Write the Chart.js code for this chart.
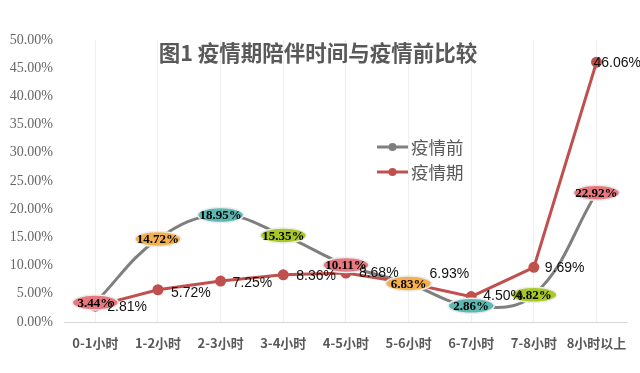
<!DOCTYPE html>
<html>
<head>
<meta charset="utf-8">
<script src="https://cdn.jsdelivr.net/npm/chart.js@4.4.1/dist/chart.umd.min.js"></script>
<style>
  html, body { margin: 0; padding: 0; background: #ffffff; }
  #wrap { width: 640px; height: 373px; }
</style>
</head>
<body>
<div id="wrap"><canvas id="c" width="640" height="373"></canvas></div>
<script>
const categories = ['0-1小时', '1-2小时', '2-3小时', '3-4小时', '4-5小时', '5-6小时', '6-7小时', '7-8小时', '8小时以上'];
const beforeValues = [3.44, 14.72, 18.95, 15.35, 10.11, 6.83, 2.86, 4.82, 22.92];
const duringValues = [2.81, 5.72, 7.25, 8.36, 8.68, 6.93, 4.50, 9.69, 46.06];
const seriesNames = ['疫情前', '疫情期'];
const titleText = '图1 疫情期陪伴时间与疫情前比较';
const yMin = 0, yMax = 50, yStep = 5;

const GRAY = '#7f7f7f';
const RED = '#c0504d';
const bubbleColors = ['#e77880', '#f4b04e', '#5db8b2', '#a8c826'];
const redLabelOffsets = [[12,1],[13,3],[12,2],[13,1],[13,0],[21,-9],[12,0],[11,1],[-3,1]];

const decorPlugin = {
  id: 'decor',
  afterDatasetsDraw(chart) {
    const ctx = chart.ctx;
    const m0 = chart.getDatasetMeta(0);
    ctx.save();
    m0.data.forEach((pt, i) => {
      const x = pt.x, y = pt.y;
      ctx.beginPath();
      ctx.ellipse(x, y, 23, 7.5, 0, 0, Math.PI * 2);
      ctx.fillStyle = bubbleColors[i % bubbleColors.length];
      ctx.fill();
      ctx.lineWidth = 1.5;
      ctx.strokeStyle = '#ececec';
      ctx.stroke();
      ctx.fillStyle = '#000';
      ctx.font = 'bold 13px "Liberation Serif", "DejaVu Serif", serif';
      ctx.textAlign = 'center';
      ctx.textBaseline = 'middle';
      ctx.fillText(chart.data.datasets[0].data[i].toFixed(2) + '%', x, y + 1);
    });
    const m1 = chart.getDatasetMeta(1);
    m1.data.forEach((pt, i) => {
      const off = redLabelOffsets[i] || [12, 0];
      ctx.fillStyle = '#111';
      ctx.font = '14px "Liberation Sans", Arial, sans-serif';
      ctx.textAlign = 'left';
      ctx.textBaseline = 'middle';
      ctx.fillText(chart.data.datasets[1].data[i].toFixed(2) + '%', pt.x + off[0], pt.y + off[1]);
    });
    ctx.restore();
  },
  afterDraw(chart) {
    const ctx = chart.ctx;
    ctx.save();
    ctx.fillStyle = '#595959';
    ctx.font = 'bold 21.5px "Noto Sans CJK SC", sans-serif';
    ctx.textAlign = 'center';
    ctx.textBaseline = 'middle';
    ctx.fillText(titleText, 318, 53);
    const lx = 377, ly = [147, 172];
    chart.data.datasets.forEach((ds, i) => {
      const y = ly[i];
      ctx.strokeStyle = ds.borderColor;
      ctx.lineWidth = 3;
      ctx.beginPath();
      ctx.moveTo(lx, y);
      ctx.lineTo(lx + 31, y);
      ctx.stroke();
      ctx.beginPath();
      ctx.arc(lx + 15.5, y, 4, 0, Math.PI * 2);
      ctx.fillStyle = ds.pointBackgroundColor;
      ctx.fill();
      ctx.fillStyle = '#595959';
      ctx.font = '17.5px "Noto Sans CJK SC", sans-serif';
      ctx.textAlign = 'left';
      ctx.textBaseline = 'middle';
      ctx.fillText(ds.label, lx + 34, y);
    });
    ctx.restore();
  }
};

new Chart(document.getElementById('c'), {
  type: 'line',
  data: {
    labels: categories,
    datasets: [
      {
        label: seriesNames[0],
        data: beforeValues,
        borderColor: GRAY,
        backgroundColor: GRAY,
        pointBackgroundColor: GRAY,
        pointBorderColor: GRAY,
        pointRadius: 4,
        borderWidth: 3,
        tension: 0.4,
        order: 1
      },
      {
        label: seriesNames[1],
        data: duringValues,
        borderColor: RED,
        backgroundColor: RED,
        pointBackgroundColor: RED,
        pointBorderColor: RED,
        pointRadius: 4,
        borderWidth: 3,
        tension: 0,
        order: 0
      }
    ]
  },
  options: {
    responsive: false,
    animation: false,
    events: [],
    layout: { padding: { top: 40, right: 12, bottom: 0, left: 0 } },
    plugins: {
      legend: { display: false },
      title: { display: false },
      tooltip: { enabled: false }
    },
    scales: {
      x: {
        type: 'category',
        offset: true,
        grid: { display: true, color: '#efefef', lineWidth: 1, drawTicks: false, offset: false },
        border: { display: true, color: '#d9d9d9', width: 1 },
        ticks: {
          padding: 13,
          color: '#595959',
          font: { family: '"Noto Sans CJK SC", sans-serif', size: 13, weight: 'bold' },
          maxRotation: 0, autoSkip: false
        },
        afterFit(scale) { scale.height = 51; }
      },
      y: {
        min: yMin, max: yMax,
        grid: { display: false, drawTicks: false },
        border: { display: false },
        ticks: {
          stepSize: yStep,
          padding: 11,
          color: '#666666',
          font: { family: '"Liberation Serif", serif', size: 14 },
          callback: v => v.toFixed(2) + '%'
        },
        afterFit(scale) { scale.width = 64; }
      }
    }
  },
  plugins: [decorPlugin]
});
</script>
</body>
</html>
